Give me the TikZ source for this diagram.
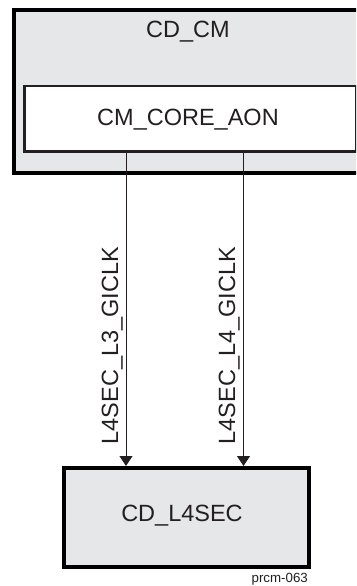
\documentclass[tikz,border=0pt]{standalone}
\usepackage{fontspec}
\setmainfont{Liberation Sans}
\usetikzlibrary{arrows.meta}
\definecolor{boxgray}{HTML}{E6E7E8}
\definecolor{ink}{HTML}{231F20}
\tikzset{
  graybox/.style={draw=black, fill=boxgray, line width=4pt, inner sep=0pt},
  whitebox/.style={draw=ink, fill=white, line width=2.5pt, inner sep=0pt},
  bigtext/.style={font=\fontsize{23.5}{28}\selectfont, text=ink, inner sep=0pt},
  sigtext/.style={font=\fontsize{23.5}{28}\selectfont, text=ink, inner sep=0pt, rotate=90},
  smalltext/.style={font=\fontsize{13.3}{16}\selectfont, text=ink, inner sep=0pt},
  clk/.style={draw=ink, line width=1pt, -{Triangle[width=13pt,length=10pt]}}
}
\begin{document}
\begin{tikzpicture}[x=1pt,y=-1pt]
\useasboundingbox (0,0) rectangle (356,586);
\clip (0,0) rectangle (356,586);
% CD_CM outer box (extends beyond right edge)
\node[graybox, minimum width=360pt, minimum height=162pt, anchor=north west] (cdcm) at (11.5,8.5) {};
\node[bigtext, anchor=base] (cdcmlbl) at (188,37.4) {CD\_CM};
% CM_CORE_AON
\node[whitebox, minimum width=332pt, minimum height=65.5pt, anchor=north west] (core) at (23,84.5) {};
\node[bigtext, anchor=base] (corelbl) at (188,125.4) {CM\_CORE\_AON};
% CD_L4SEC
\node[graybox, minimum width=244.5pt, minimum height=98.5pt, anchor=north west] (sec) at (62,466) {};
\node[bigtext, anchor=base] (seclbl) at (182,521.4) {CD\_L4SEC};
% connectors
\coordinate (x1) at (126,0);
\coordinate (x2) at (243.5,0);
\draw[clk] (core.south -| x1) -- (sec.north -| x1);
\draw[clk] (core.south -| x2) -- (sec.north -| x2);
% signal labels
\node[sigtext, anchor=base] (l3) at (118,345.5) {L4SEC\_L3\_GICLK};
\node[sigtext, anchor=base] (l4) at (235,345.5) {L4SEC\_L4\_GICLK};
% figure id
\node[smalltext, anchor=base east] (fig) at (308,582) {prcm-063};
\end{tikzpicture}
\end{document}
